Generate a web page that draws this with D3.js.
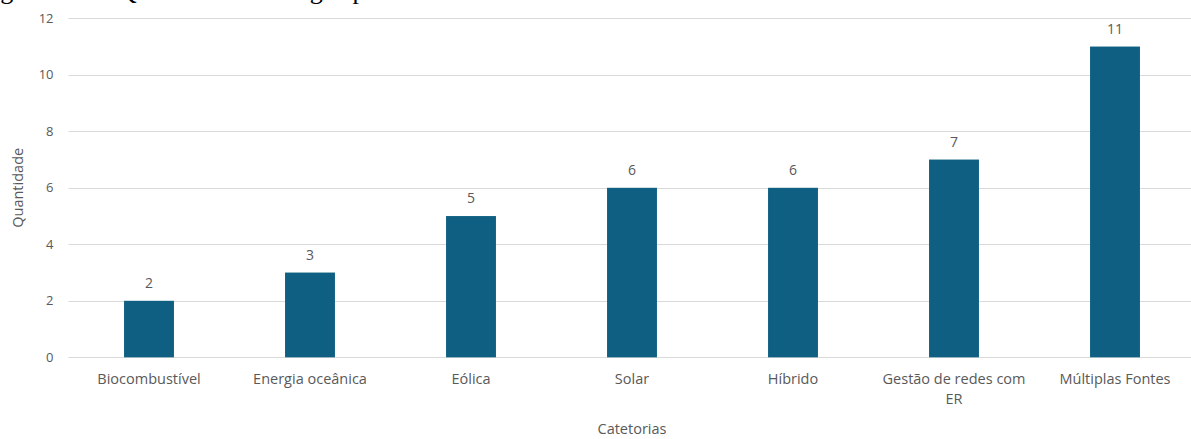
<!DOCTYPE html>
<html>
<head>
<meta charset="utf-8">
<script src="https://cdn.jsdelivr.net/npm/d3@7"></script>
<style>
html,body{margin:0;padding:0;background:#fff;overflow:hidden;}
svg{display:block;}
</style>
</head>
<body>
<svg id="chart" width="1191" height="439"></svg>
<script>
const categories = ["Biocombustível","Energia oceânica","Eólica","Solar","Híbrido","Gestão de redes com ER","Múltiplas Fontes"];
const values = [2,3,5,6,6,7,11];
const yTicks = [0,2,4,6,8,10,12];
const captionText = "Figura 10 — Quantidade de artigos por área";
const yTitle = "Quantidade";
const xTitle = "Catetorias";

const W = 1191, H = 439;
const margin = {left: 68.5, right: -4.5, top: 18.3, bottom: 81.7};
const svg = d3.select("#chart");

const x = d3.scaleBand().domain(categories)
  .range([margin.left, W - margin.right]).paddingInner(0.69).paddingOuter(0.345);
const y = d3.scaleLinear().domain([0,12]).range([H - margin.bottom, margin.top]);

const font = "'Open Sans', Lato, sans-serif";
const txt = "#595959";

// caption (cut off at top, as in the reference)
const cap = svg.append("text").attr("x", 0).attr("y", -1.5)
  .attr("font-family", "'Liberation Serif','Times New Roman',serif")
  .attr("font-size", 22).attr("fill", "#000").text(captionText);
{
  const n = cap.node();
  const iQ = captionText.indexOf("Q");
  const iG = captionText.indexOf("artigos") + 4;
  const L1 = n.getSubStringLength(0, iQ);
  const L2 = n.getSubStringLength(0, iG);
  const size = 22 * 192 / (L2 - L1);
  cap.attr("font-size", size).attr("x", 118 - L1 * size / 22);
}

// gridlines
svg.append("g").selectAll("line").data(yTicks).join("line")
  .attr("x1", margin.left).attr("x2", W)
  .attr("y1", d => Math.round(y(d)) + 0.5).attr("y2", d => Math.round(y(d)) + 0.5)
  .attr("stroke", "#d9d9d9").attr("stroke-width", 1);

// y axis
const yAxis = d3.axisLeft(y).tickValues(yTicks).tickSize(0).tickPadding(15);
const yg = svg.append("g").attr("transform", `translate(${margin.left},0)`).call(yAxis);
yg.select(".domain").remove();
yg.selectAll("text").attr("font-family", font).attr("font-size", 13).attr("fill", txt);

// bars
svg.append("g").selectAll("rect").data(values).join("rect")
  .attr("x", (d,i) => x(categories[i]))
  .attr("width", x.bandwidth())
  .attr("y", d => y(d))
  .attr("height", d => y(0) - y(d))
  .attr("fill", "#0e5f82");

// value labels
svg.append("g").selectAll("text").data(values).join("text")
  .attr("x", (d,i) => x(categories[i]) + x.bandwidth()/2)
  .attr("y", d => y(d) - 13)
  .attr("text-anchor", "middle")
  .attr("font-family", font).attr("font-size", 14).attr("fill", txt)
  .text(d => d);

// x axis
const xAxis = d3.axisBottom(x).tickSize(0).tickPadding(16);
const xg = svg.append("g").attr("transform", `translate(0,${y(0)})`).call(xAxis);
xg.select(".domain").remove();
xg.selectAll("text").attr("font-family", font).attr("font-size", 14.5).attr("fill", txt)
  .each(function(d){
    const t = d3.select(this);
    const words = d.split(" ");
    const maxW = 150;
    t.text(null);
    let line = [];
    let tspan = t.append("tspan").attr("x", 0).attr("dy", "0.71em");
    for (const w of words) {
      line.push(w);
      tspan.text(line.join(" "));
      if (tspan.node().getComputedTextLength() > maxW && line.length > 1) {
        line.pop();
        tspan.text(line.join(" "));
        line = [w];
        tspan = t.append("tspan").attr("x", 0).attr("dy", "1.4em").text(w);
      }
    }
  });

// axis titles
svg.append("text").attr("transform", `translate(23,${(y(0)+y(12))/2}) rotate(-90)`)
  .attr("text-anchor", "middle").attr("font-family", font).attr("font-size", 14.5)
  .attr("fill", txt).text(yTitle);
svg.append("text").attr("x", (x.range()[0]+x.range()[1])/2).attr("y", 434)
  .attr("text-anchor", "middle").attr("font-family", font).attr("font-size", 14.5)
  .attr("fill", txt).text(xTitle);
</script>
</body>
</html>
